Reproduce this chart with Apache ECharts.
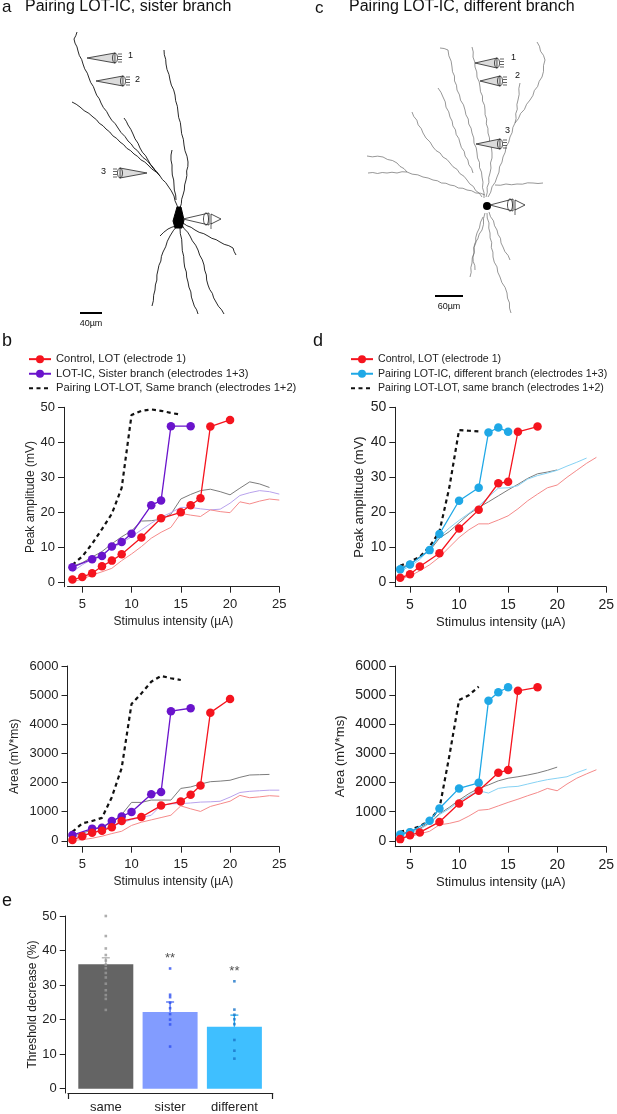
<!DOCTYPE html>
<html>
<head>
<meta charset="utf-8">
<script src="https://cdn.jsdelivr.net/npm/echarts@6/dist/echarts.min.js"></script>
<style>
  html, body { margin: 0; padding: 0; background: #fff; }
  #main { width: 617px; height: 1114px; }
</style>
</head>
<body>
<div id="main"></div>
<script>
// ---- data ----
// b: sister branch, peak amplitude
const bCtrlX = [4, 5, 6, 7, 8, 9, 11, 13, 15, 16, 17, 18, 20];
const bCtrlAmp = [0.8, 1.5, 2.6, 4.6, 6.2, 8.0, 12.8, 18.3, 20.0, 22.0, 24.0, 44.5, 46.4];
const bSisX = [4, 6, 7, 8, 9, 10, 12, 13, 14, 16];
const bSisAmp = [4.3, 6.6, 7.5, 10.2, 11.5, 13.9, 22.0, 23.4, 44.6, 44.6];
const bSameX = [4, 5, 6, 7, 8, 9, 10, 11, 12, 13, 14, 15];
const bSameAmp = [5.0, 7.4, 11.0, 15.2, 19.6, 27.0, 47.8, 49.0, 49.4, 49.0, 48.4, 47.9];
const bGreyX = [4, 5, 6, 7, 8, 9, 10, 11, 12, 13, 14, 15, 16, 17, 18, 19, 20, 21, 22, 23, 24];
const bGreyAmp = [4.6, 5.6, 7.2, 8.8, 11.0, 13.0, 14.7, 17.5, 17.6, 18.0, 19.5, 23.8, 25.1, 26.2, 26.6, 25.9, 25.0, 26.9, 28.7, 28.1, 27.1];
const bThinX = [4, 5, 6, 7, 8, 9, 10, 11, 12, 13, 14, 15, 16, 17, 18, 19, 20, 21, 22, 23, 24, 25];
const bLavAmp = [3.0, 5.0, 6.6, 8.1, 9.7, 11.3, 13.0, 15.0, 16.9, 18.6, 19.9, 21.4, 21.4, 21.0, 20.7, 20.9, 22.6, 24.8, 25.6, 26.2, 25.9, 25.2];
const bPinkAmp = [0.2, 0.9, 2.1, 3.0, 4.0, 6.2, 8.1, 10.2, 12.6, 14.3, 15.7, 19.7, 19.2, 18.8, 20.7, 20.2, 19.9, 23.0, 22.4, 23.2, 23.8, 23.5];
// b: area
const bCtrlArea = [30, 160, 280, 350, 470, 680, 820, 1210, 1350, 1580, 1900, 4400, 4870];
const bSisArea = [200, 420, 450, 680, 840, 990, 1600, 1680, 4450, 4550];
const bSameArea = [310, 600, 680, 790, 1500, 2500, 4700, 5060, 5460, 5660, 5580, 5520];
const bGreyArea = [150, 260, 380, 480, 620, 900, 1320, 1320, 1400, 1400, 1400, 1800, 1850, 1950, 2030, 2050, 2080, 2180, 2260, 2270, 2280];
const bLavArea = [100, 200, 290, 380, 500, 620, 730, 800, 880, 1220, 1270, 1280, 1300, 1330, 1340, 1360, 1500, 1660, 1700, 1720, 1740, 1740];
const bPinkArea = [20, 40, 90, 160, 250, 330, 530, 640, 720, 800, 880, 1200, 1100, 1010, 1180, 1270, 1360, 1560, 1480, 1510, 1550, 1530];

// d: different branch, peak amplitude
const dCtrlX = [4, 5, 6, 8, 10, 12, 14, 15, 16, 18];
const dCtrlAmp = [1.3, 2.3, 4.5, 8.3, 15.4, 20.7, 28.3, 28.7, 43.0, 44.5];
const dDifX = [4, 5, 7, 8, 10, 12, 13, 14, 15];
const dDifAmp = [3.7, 5.1, 9.2, 13.8, 23.3, 27.0, 42.8, 44.2, 43.0];
const dSameX = [4, 5, 6, 7, 8, 9, 10, 11, 12];
const dSameAmp = [4.7, 5.9, 7.3, 10.2, 14.5, 27.0, 43.5, 43.3, 43.1];
const dGreyX = [4, 5, 6, 7, 8, 9, 10, 11, 12, 13, 14, 15, 16, 17, 18, 19, 20];
const dGreyAmp = [4.0, 5.3, 7.3, 9.0, 12.6, 14.5, 17.0, 19.5, 21.4, 23.0, 24.7, 26.4, 28.0, 29.7, 31.0, 31.5, 32.1];
const dSkyX = [4, 5, 6, 7, 8, 9, 10, 11, 12, 13, 14, 15, 16, 17, 18, 19, 20, 21, 22, 23];
const dSkyAmp = [3.2, 4.6, 6.5, 9.5, 13.0, 15.5, 17.7, 19.7, 21.8, 24.4, 26.9, 27.0, 27.6, 29.5, 30.5, 31.2, 32.0, 33.2, 34.3, 35.5];
const dPinkX = [4, 5, 6, 7, 8, 9, 10, 11, 12, 13, 14, 15, 16, 17, 18, 19, 20, 21, 22, 23, 24];
const dPinkAmp = [1.0, 1.8, 3.3, 5.0, 7.2, 10.0, 12.8, 15.0, 16.7, 16.7, 17.8, 19.0, 21.0, 23.3, 25.2, 27.0, 27.8, 30.0, 32.0, 34.0, 35.7];
// d: area
const dCtrlArea = [60, 195, 290, 650, 1280, 1720, 2340, 2430, 5150, 5270];
const dDifArea = [220, 300, 690, 1110, 1800, 1990, 4810, 5100, 5270];
const dSameArea = [310, 390, 500, 710, 1110, 2900, 4830, 5000, 5290];
const dGreyArea = [240, 320, 430, 620, 930, 1150, 1400, 1620, 1800, 1920, 2060, 2150, 2200, 2260, 2330, 2420, 2530];
const dSkyArea = [200, 280, 390, 600, 900, 1100, 1350, 1550, 1720, 1640, 1800, 1850, 1870, 1950, 2030, 2100, 2150, 2200, 2340, 2460];
const dPinkArea = [80, 150, 240, 330, 550, 600, 680, 850, 1050, 1080, 1200, 1320, 1430, 1550, 1660, 1800, 1720, 1950, 2150, 2300, 2440];

// e: threshold decrease
const groups = ['same', 'sister', 'different'];
const means = [36.0, 22.2, 17.9];
const sems = [1.9, 2.9, 3.4];
const dotsSame = [50.0, 44.2, 40.6, 38.7, 37.1, 35.9, 34.9, 33.5, 32.2, 30.4, 28.5, 27.1, 26.0, 22.8];
const dotsSister = [34.8, 27.2, 26.5, 24.9, 23.3, 21.6, 20.0, 18.6, 12.2];
const dotsDifferent = [31.1, 22.9, 21.4, 20.1, 18.7, 14.1, 11.0, 8.7];
const signif = ['', '**', '**'];

const xTicks = [5, 10, 15, 20, 25];
const ampTicks = [0, 10, 20, 30, 40, 50];
const areaTicks = [0, 1000, 2000, 3000, 4000, 5000, 6000];
const pctTicks = [0, 10, 20, 30, 40, 50];

const nCtrl = 'Control, LOT (electrode 1)';
const nSis = 'LOT-IC, Sister branch (electrodes 1+3)';
const nSameB = 'Pairing LOT-LOT, Same branch (electrodes 1+2)';
const nDif = 'Pairing LOT-IC, different branch (electrodes 1+3)';
const nSameD = 'Pairing LOT-LOT, same branch (electrodes 1+2)';

// ---- styles ----
const FONT = 'Arial, "Liberation Sans", sans-serif';
const RED = '#f5141e', PURPLE = '#6a14cc', SKY = '#1fa8e6';
const GREY_T = '#7c7c7c', LAV_T = '#b8a2ec', PINK_T = '#f58a8a', SKY_T = '#86d2f4';

const pairs = (xs, ys) => xs.map((x, i) => [x, ys[i]]);

function thin(name, xs, ys, color, g) {
  return { name: name, type: 'line', xAxisIndex: g, yAxisIndex: g, data: pairs(xs, ys),
    symbol: 'none', lineStyle: { color: color, width: 1 }, itemStyle: { color: color },
    silent: true, z: 2, animation: false };
}
function marked(name, xs, ys, color, g) {
  return { name: name, type: 'line', xAxisIndex: g, yAxisIndex: g, data: pairs(xs, ys),
    symbol: 'circle', symbolSize: 8.5, lineStyle: { color: color, width: 1.3 },
    itemStyle: { color: color }, z: 4, animation: false };
}
function dashed(name, xs, ys, g) {
  return { name: name, type: 'line', xAxisIndex: g, yAxisIndex: g, data: pairs(xs, ys),
    symbol: 'none', lineStyle: { color: '#111', width: 2.2, type: [4, 3.5] },
    itemStyle: { color: '#111' }, z: 3, animation: false };
}

function xAxisFor(g, fs) {
  return { type: 'value', gridIndex: g, min: 3.5, max: 25,
    name: 'Stimulus intensity (µA)', nameLocation: 'middle', nameGap: 29,
    nameTextStyle: { fontFamily: FONT, fontSize: fs, color: '#222' },
    axisLine: { show: true, onZero: false, lineStyle: { color: '#222', width: 1 } },
    axisTick: { show: true, inside: false, length: 6, customValues: xTicks, lineStyle: { color: '#222' } },
    axisLabel: { customValues: xTicks, margin: 11, fontFamily: FONT, fontSize: fs + 1, color: '#222' },
    splitLine: { show: false } };
}
function yAxisFor(g, min, max, ticks, name, gap, offset, fs) {
  return { type: 'value', gridIndex: g, min: min, max: max, offset: offset,
    name: name, nameLocation: 'middle', nameGap: gap, nameRotate: 90,
    nameTextStyle: { fontFamily: FONT, fontSize: fs, color: '#222' },
    axisLine: { show: true, onZero: false, lineStyle: { color: '#222', width: 1 } },
    axisTick: { show: true, inside: false, length: 6, customValues: ticks, lineStyle: { color: '#222' } },
    axisLabel: { customValues: ticks, margin: 9, fontFamily: FONT, fontSize: fs + 1, color: '#222',
      formatter: function (v) { return String(v); } },
    splitLine: { show: false } };
}

// e axis range: bars centred on 0,1,2
const eMin = -0.588, eMax = 2.596;

// ---- neuron sketches (illustration only, panels a and c) ----
const graphics = [];
function txt(x, y, s, size, extra) {
  graphics.push({ type: 'text', x: x, y: y,
    style: Object.assign({ text: s, font: size + 'px ' + FONT, fill: '#111', textVerticalAlign: 'middle' }, extra || {}) });
}
// break each segment into short wobbly steps so the branch looks hand traced
function wobble(pts, amp) {
  const out = [pts[0]];
  for (let i = 1; i < pts.length; i++) {
    const a = pts[i - 1], b = pts[i];
    const dx = b[0] - a[0], dy = b[1] - a[1];
    const len = Math.hypot(dx, dy), n = Math.max(1, Math.round(len / 5));
    for (let k = 1; k <= n; k++) {
      const t = k / n, s = (k % 2 ? 1 : -1) * (k === n ? 0 : amp);
      out.push([a[0] + dx * t - dy / len * s, a[1] + dy * t + dx / len * s]);
    }
  }
  return out;
}
function branch(pts, color, w, amp) {
  graphics.push({ type: 'polyline', shape: { points: wobble(pts, amp) }, silent: true,
    style: { stroke: color, lineWidth: w, fill: null, lineJoin: 'round' } });
}
function electrode(tipX, tipY, baseX, label, lx, ly) {
  const h = 5;
  graphics.push({ type: 'polygon', shape: { points: [[tipX, tipY], [baseX, tipY - h], [baseX, tipY + h]] },
    style: { stroke: '#222', fill: '#dcdcdc', lineWidth: 0.8 } });
  graphics.push({ type: 'ellipse', shape: { cx: baseX, cy: tipY, rx: 2.5, ry: h },
    style: { stroke: '#222', fill: null, lineWidth: 0.8 } });
  const s = baseX > tipX ? 1 : -1;
  [-4, -1.5, 1.5, 4].forEach(function (dy) {
    graphics.push({ type: 'line', shape: { x1: baseX + s * 3, y1: tipY + dy, x2: baseX + s * 7, y2: tipY + dy },
      style: { stroke: '#222', lineWidth: 0.7 } });
  });
  if (label) txt(lx, ly, label, 9);
}
function recording(x0, y, len) {
  graphics.push({ type: 'polygon', shape: { points: [[x0, y], [x0 + len, y - 6], [x0 + len, y + 6]] },
    style: { stroke: '#222', fill: null, lineWidth: 0.8 } });
  graphics.push({ type: 'ellipse', shape: { cx: x0 + len - 3, cy: y, rx: 2.5, ry: 6 },
    style: { stroke: '#222', fill: null, lineWidth: 0.8 } });
  graphics.push({ type: 'polygon', shape: { points: [[x0 + len + 2, y - 5], [x0 + len + 12, y], [x0 + len + 2, y + 5]] },
    style: { stroke: '#222', fill: '#fff', lineWidth: 0.8 } });
  graphics.push({ type: 'line', shape: { x1: x0 + len + 2, y1: y + 4, x2: x0 + len + 2, y2: y + 10 },
    style: { stroke: '#222', lineWidth: 0.7 } });
}

// panel a
[
  [[178,210],[174,196],[168,186],[160,176],[150,164],[140,154],[128,141],[118,128],[109,116],[101,103],[95,91],[89,78],[83,64],[78,51],[74,39],[77,32]],
  [[160,176],[148,165],[134,154],[120,142],[106,129],[93,117],[80,107],[72,102]],
  [[156,172],[148,160],[140,148],[133,134],[128,125],[124,118]],
  [[180,208],[183,195],[186,180],[188,162],[184,145],[181,128],[178,112],[175,95],[170,80],[166,64],[164,50]],
  [[176,200],[174,185],[172,170],[171,155],[172,150]],
  [[177,226],[170,236],[163,252],[158,270],[155,290],[152,306]],
  [[180,228],[182,245],[184,262],[188,282],[193,302],[198,314]],
  [[182,225],[190,236],[198,250],[204,265],[208,285],[216,302],[224,314]],
  [[183,223],[195,230],[208,236],[220,242],[233,248],[236,255]],
  [[176,226],[168,229],[160,236]]
].forEach(function (p) { branch(p, '#111', 0.9, 0.35); });
graphics.push({ type: 'polygon', shape: { points: [[177,207],[181,207],[184,220],[182,228],[175,228],[173,221]] },
  style: { fill: '#000', stroke: '#000' } });
electrode(87, 58, 115, '1', 128, 56);
electrode(96, 81, 123, '2', 135, 80);
electrode(147, 173, 120, '3', 101, 172);
recording(183, 219, 26);
graphics.push({ type: 'line', shape: { x1: 80, y1: 313, x2: 102, y2: 313 }, style: { stroke: '#000', lineWidth: 2 } });
txt(91, 324, '40µm', 9, { textAlign: 'center' });

// panel c
[
  [[485,195],[467,190],[450,185],[433,180],[423,177],[407,172],[387,173],[368,173]],
  [[407,172],[397,163],[383,157],[367,156]],
  [[482,197],[467,180],[450,163],[433,147],[423,133],[412,112]],
  [[484,198],[482,177],[477,153],[472,133],[465,110],[457,90],[452,67],[448,50],[440,48]],
  [[486,197],[490,173],[492,153],[488,133],[485,110],[480,87],[475,67],[472,47]],
  [[488,197],[497,177],[503,157],[510,137],[515,123],[518,100],[520,83]],
  [[515,123],[530,100],[542,77],[545,60],[537,42]],
  [[495,185],[517,184],[533,183],[543,183]],
  [[473,173],[460,143],[450,117],[443,97],[438,88]],
  [[485,213],[482,230],[475,243],[472,263],[470,277]],
  [[487,213],[490,233],[493,257],[500,277],[507,293],[511,313]],
  [[489,212],[497,230],[503,247],[510,260]],
  [[483,217],[477,233],[473,257],[475,270]]
].forEach(function (p) { branch(p, '#6a6a6a', 0.7, 0.5); });
graphics.push({ type: 'circle', shape: { cx: 487, cy: 206, r: 4 }, style: { fill: '#000' } });
electrode(475, 63, 497, '1', 511, 58);
electrode(480, 81, 500, '2', 515, 76);
electrode(476, 144, 500, '3', 505, 131);
recording(490, 205, 23);
graphics.push({ type: 'line', shape: { x1: 435, y1: 296, x2: 463, y2: 296 }, style: { stroke: '#000', lineWidth: 2 } });
txt(449, 307, '60µm', 9, { textAlign: 'center' });

// panel letters and titles
txt(2, 7, 'a', 17);
txt(25, 7, 'Pairing LOT-IC, sister branch', 16);
txt(315, 8, 'c', 17);
txt(349, 7, 'Pairing LOT-IC, different branch', 16);
txt(2, 341, 'b', 18);
txt(313, 341, 'd', 18);
txt(2, 901, 'e', 18);

// ---- chart ----
const chart = echarts.init(document.getElementById('main'), null, { renderer: 'canvas' });

function legendFor(left, fs, names) {
  return { orient: 'vertical', left: left, top: 347, itemWidth: 22, itemHeight: 10, itemGap: 0.3,
    selectedMode: false, textStyle: { fontFamily: FONT, fontSize: fs, color: '#222', lineHeight: 14.3 },
    data: [names[0], names[1], { name: names[2], itemStyle: { opacity: 0 } }] };
}

const option = {
  backgroundColor: '#fff',
  animation: false,
  textStyle: { fontFamily: FONT },
  graphic: graphics,
  legend: [
    legendFor(23, 11.2, [nCtrl, nSis, nSameB]),
    legendFor(345, 10.6, [nCtrl, nDif, nSameD])
  ],
  grid: [
    { left: 67.5, top: 407.3, width: 211.8, height: 179.4 },
    { left: 67.5, top: 666, width: 211.8, height: 180.7 },
    { left: 395.3, top: 407.3, width: 211.4, height: 179.4 },
    { left: 395.3, top: 666, width: 211.4, height: 180.7 },
    { left: 68, top: 916, width: 204.7, height: 180.7 }
  ],
  xAxis: [
    xAxisFor(0, 12), xAxisFor(1, 12), xAxisFor(2, 13), xAxisFor(3, 13),
    { type: 'value', gridIndex: 4, min: eMin, max: eMax,
      axisLine: { show: true, onZero: false, lineStyle: { color: '#222', width: 1.2 } },
      axisTick: { show: true, length: 6, customValues: [eMin, eMax], lineStyle: { color: '#222', width: 1.2 } },
      axisLabel: { customValues: [0, 1, 2], margin: 8, fontFamily: FONT, fontSize: 13, color: '#222',
        formatter: function (v) { return groups[Math.round(v)]; } },
      splitLine: { show: false } }
  ],
  yAxis: [
    yAxisFor(0, -1.25, 50, ampTicks, 'Peak amplitude (mV)', 26, 3.5, 12),
    yAxisFor(1, -200, 6000, areaTicks, 'Area (mV*ms)', 47, 0, 12),
    yAxisFor(2, -1.25, 50, ampTicks, 'Peak amplitude (mV)', 29, 0, 13),
    yAxisFor(3, -200, 6000, areaTicks, 'Area (mV*ms)', 48, 0, 13),
    yAxisFor(4, -1.25, 50, pctTicks, 'Threshold decrease (%)', 26, 2.3, 12)
  ],
  series: [
    // b amplitude
    thin('b-grey', bGreyX, bGreyAmp, GREY_T, 0),
    thin('b-lav', bThinX, bLavAmp, LAV_T, 0),
    thin('b-pink', bThinX, bPinkAmp, PINK_T, 0),
    dashed(nSameB, bSameX, bSameAmp, 0),
    marked(nSis, bSisX, bSisAmp, PURPLE, 0),
    marked(nCtrl, bCtrlX, bCtrlAmp, RED, 0),
    // b area
    thin('b-grey2', bGreyX, bGreyArea, GREY_T, 1),
    thin('b-lav2', bThinX, bLavArea, LAV_T, 1),
    thin('b-pink2', bThinX, bPinkArea, PINK_T, 1),
    dashed(nSameB, bSameX, bSameArea, 1),
    marked(nSis, bSisX, bSisArea, PURPLE, 1),
    marked(nCtrl, bCtrlX, bCtrlArea, RED, 1),
    // d amplitude
    thin('d-grey', dGreyX, dGreyAmp, GREY_T, 2),
    thin('d-sky', dSkyX, dSkyAmp, SKY_T, 2),
    thin('d-pink', dPinkX, dPinkAmp, PINK_T, 2),
    dashed(nSameD, dSameX, dSameAmp, 2),
    marked(nDif, dDifX, dDifAmp, SKY, 2),
    marked('d-ctrl', dCtrlX, dCtrlAmp, RED, 2),
    // d area
    thin('d-grey2', dGreyX, dGreyArea, GREY_T, 3),
    thin('d-sky2', dSkyX, dSkyArea, SKY_T, 3),
    thin('d-pink2', dPinkX, dPinkArea, PINK_T, 3),
    dashed(nSameD, dSameX, dSameArea, 3),
    marked(nDif, dDifX, dDifArea, SKY, 3),
    marked('d-ctrl2', dCtrlX, dCtrlArea, RED, 3),
    // e bars
    { type: 'bar', xAxisIndex: 4, yAxisIndex: 4, barWidth: 55, z: 2,
      data: means.map(function (m, i) {
        return { value: [i, m], itemStyle: { color: ['#646464', '#829cff', '#3fbfff'][i] } };
      }) },
    { type: 'custom', xAxisIndex: 4, yAxisIndex: 4, z: 5,
      data: means.map(function (m, i) { return [i, m, m + sems[i]]; }),
      renderItem: function (params, api) {
        const x = api.value(0);
        const p0 = api.coord([x, api.value(1)]);
        const p1 = api.coord([x, api.value(2)]);
        const col = ['#b0b0b0', '#4a6cf2', '#28aef0'][params.dataIndex];
        return { type: 'group', children: [
          { type: 'line', shape: { x1: p0[0], y1: p0[1], x2: p1[0], y2: p1[1] }, style: { stroke: col, lineWidth: 1.3 } },
          { type: 'line', shape: { x1: p1[0] - 4, y1: p1[1], x2: p1[0] + 4, y2: p1[1] }, style: { stroke: col, lineWidth: 1.3 } }
        ] };
      } },
    { type: 'scatter', xAxisIndex: 4, yAxisIndex: 4, symbol: 'rect', symbolSize: 2.6, z: 6,
      itemStyle: { color: '#9a9a9a' }, data: dotsSame.map(function (v) { return [0, v]; }) },
    { type: 'scatter', xAxisIndex: 4, yAxisIndex: 4, symbol: 'rect', symbolSize: 2.6, z: 6,
      itemStyle: { color: '#3050f0' }, data: dotsSister.map(function (v) { return [1, v]; }) },
    { type: 'scatter', xAxisIndex: 4, yAxisIndex: 4, symbol: 'rect', symbolSize: 2.6, z: 6,
      itemStyle: { color: '#1a74c8' }, data: dotsDifferent.map(function (v) { return [2, v]; }) },
    { type: 'scatter', xAxisIndex: 4, yAxisIndex: 4, symbolSize: 0, z: 7,
      data: [dotsSame, dotsSister, dotsDifferent].map(function (d, i) {
        return { value: [i, Math.max.apply(null, d) + 2.8], label: { show: !!signif[i], formatter: signif[i] } };
      }),
      label: { show: true, position: 'inside', fontFamily: FONT, fontSize: 13, color: '#222' } }
  ]
};
chart.setOption(option);
</script>
</body>
</html>
